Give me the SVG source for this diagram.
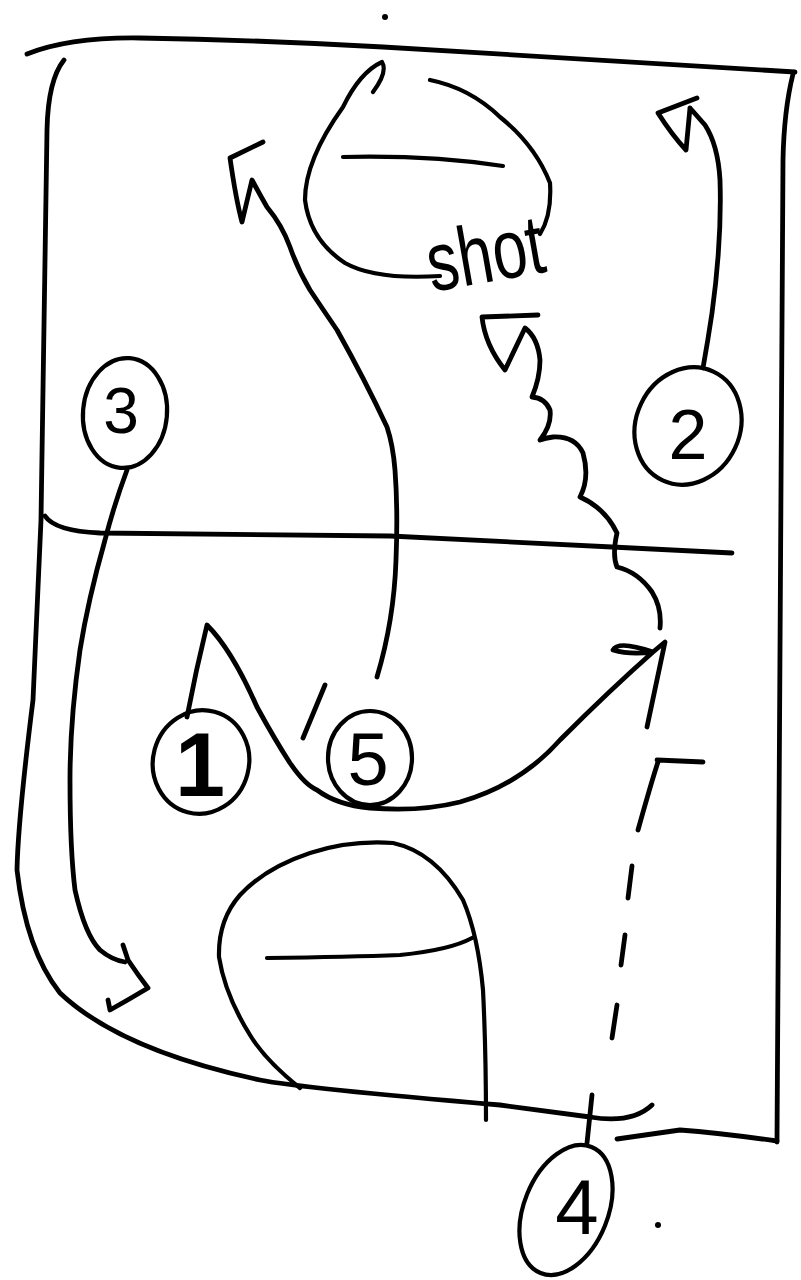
<svg xmlns="http://www.w3.org/2000/svg" width="801" height="1280" viewBox="0 0 801 1280">
<style>
.ln{fill:none;stroke:#000;stroke-width:4.8;stroke-linecap:round;stroke-linejoin:round}
.th{stroke-width:4.2}
.num{font-family:"Liberation Sans","DejaVu Sans",sans-serif;fill:#000;text-anchor:middle}
.lbl{font-family:"Liberation Sans","DejaVu Sans",sans-serif;fill:#000}
</style>
<rect width="801" height="1280" fill="#fff"/>
<g id="court">
<path class="ln" d="M27,54 Q70,37 140,38 Q260,40 383,47 L795,72"/>
<path class="ln" d="M793,74 Q784,110 783,160 L777,1142"/>
<path class="ln" d="M617,1139 L680,1130 Q720,1133 777,1141"/>
<path class="ln" d="M64,60 Q48,80 47,130 L41,520 L33,700 Q18,820 17,870 Q26,950 60,993 Q120,1050 260,1080 Q300,1088 500,1105 L590,1117 Q632,1124 652,1105"/>
<path class="ln" d="M45,516 Q55,531 100,533 L390,536 L612,547 L732,553"/>
<circle cx="385" cy="17" r="3" fill="#000"/>
<circle cx="658" cy="1225" r="3" fill="#000"/>
</g>
<g id="basket-top">
<path class="ln th" d="M373,92 Q388,72 382,62 Q360,72 343,107 Q305,160 305,200 Q310,240 345,263 Q375,280 440,276"/>
<path class="ln th" d="M430,80 Q470,88 500,117 Q535,145 550,183 Q552,215 540,234"/>
<path class="ln th" d="M343,157 Q430,155 503,166"/>
<text class="lbl" x="432" y="292" font-size="84" textLength="118" lengthAdjust="spacingAndGlyphs" transform="rotate(-10 432 292)">shot</text>
</g>
<g id="basket-bottom">
<path class="ln th" d="M300,1088 Q265,1060 250,1035 Q225,995 219,957 Q218,920 240,895 Q265,868 310,853 Q350,840 393,843 Q435,852 463,900 Q478,935 483,990 Q486,1050 486,1120"/>
<path class="ln th" d="M267,958 Q350,957 400,955 Q450,950 472,938"/>
</g>
<g id="connectors">
<path id="cut5" class="ln" d="M263,142 L230,158 Q236,200 242,222 L252,180 Q260,195 267,207 Q282,225 290,247 Q298,270 310,290 Q322,308 337,330 Q365,380 387,427 Q393,445 395,470 Q398,510 396,560 Q394,620 377,677"/>
<path id="cut2" class="ln" d="M703,368 Q708,340 712,313 Q722,240 720,180 Q718,145 705,125 L690,108 M697,98 L658,113 Q672,135 686,150 L690,108"/>
<path id="dribble" class="ln" d="M660,628 Q662,608 652,592 Q638,572 617,567 Q612,555 617,533 Q605,508 580,497 Q590,478 583,453 Q575,436 553,437 Q545,438 540,440 Q552,425 550,410 Q545,398 532,397 Q540,378 540,360 Q538,338 525,328 L505,370 Q485,345 482,317 L538,315"/>
<path id="cut1" class="ln" d="M187,717 Q196,670 207,625 Q232,650 257,707 Q275,740 290,763 Q305,785 317,790 Q337,805 370,808 Q420,812 460,802 Q520,785 560,740 Q610,690 653,652 Q630,655 613,650 Q618,640 653,652 L665,642 L647,727"/>
<path id="cut3" class="ln" d="M127,470 Q114,505 105,540 Q88,600 80,650 Q70,720 70,780 Q70,850 75,890 Q85,935 100,950 Q112,960 125,962 M123,945 L128,960 Q138,975 148,988 Q128,1000 110,1010 L108,1000"/>
<path id="screen5" class="ln" d="M325,685 L303,738"/>
<path id="screen4" class="ln" d="M703,762 L657,760 M658,762 Q652,780 638,830"/>
<path id="pass4" class="ln" d="M632,866 L628,898 M625,935 L621,965 M617,1005 L612,1038 M592,1095 L587,1143"/>
</g>
<g id="p1">
<ellipse class="ln th" cx="201" cy="762" rx="48" ry="52" transform="rotate(15 201 762)"/>
<text class="num" x="200" y="796" font-size="90" font-weight="bold">1</text>
</g>
<g id="p2">
<ellipse class="ln th" cx="688" cy="426" rx="52" ry="60" transform="rotate(25 688 426)"/>
<text class="num" x="688" y="459" font-size="70">2</text>
</g>
<g id="p3">
<ellipse class="ln th" cx="125" cy="413" rx="42" ry="55" transform="rotate(5 125 413)"/>
<text class="num" x="121" y="433" font-size="64">3</text>
</g>
<g id="p4">
<ellipse class="ln th" cx="566" cy="1210" rx="42" ry="68" transform="rotate(22 566 1210)"/>
<text class="num" x="577" y="1234" font-size="78">4</text>
</g>
<g id="p5">
<ellipse class="ln th" cx="370" cy="758" rx="42" ry="47"/>
<text class="num" x="368" y="785" font-size="74">5</text>
</g>
</svg>
